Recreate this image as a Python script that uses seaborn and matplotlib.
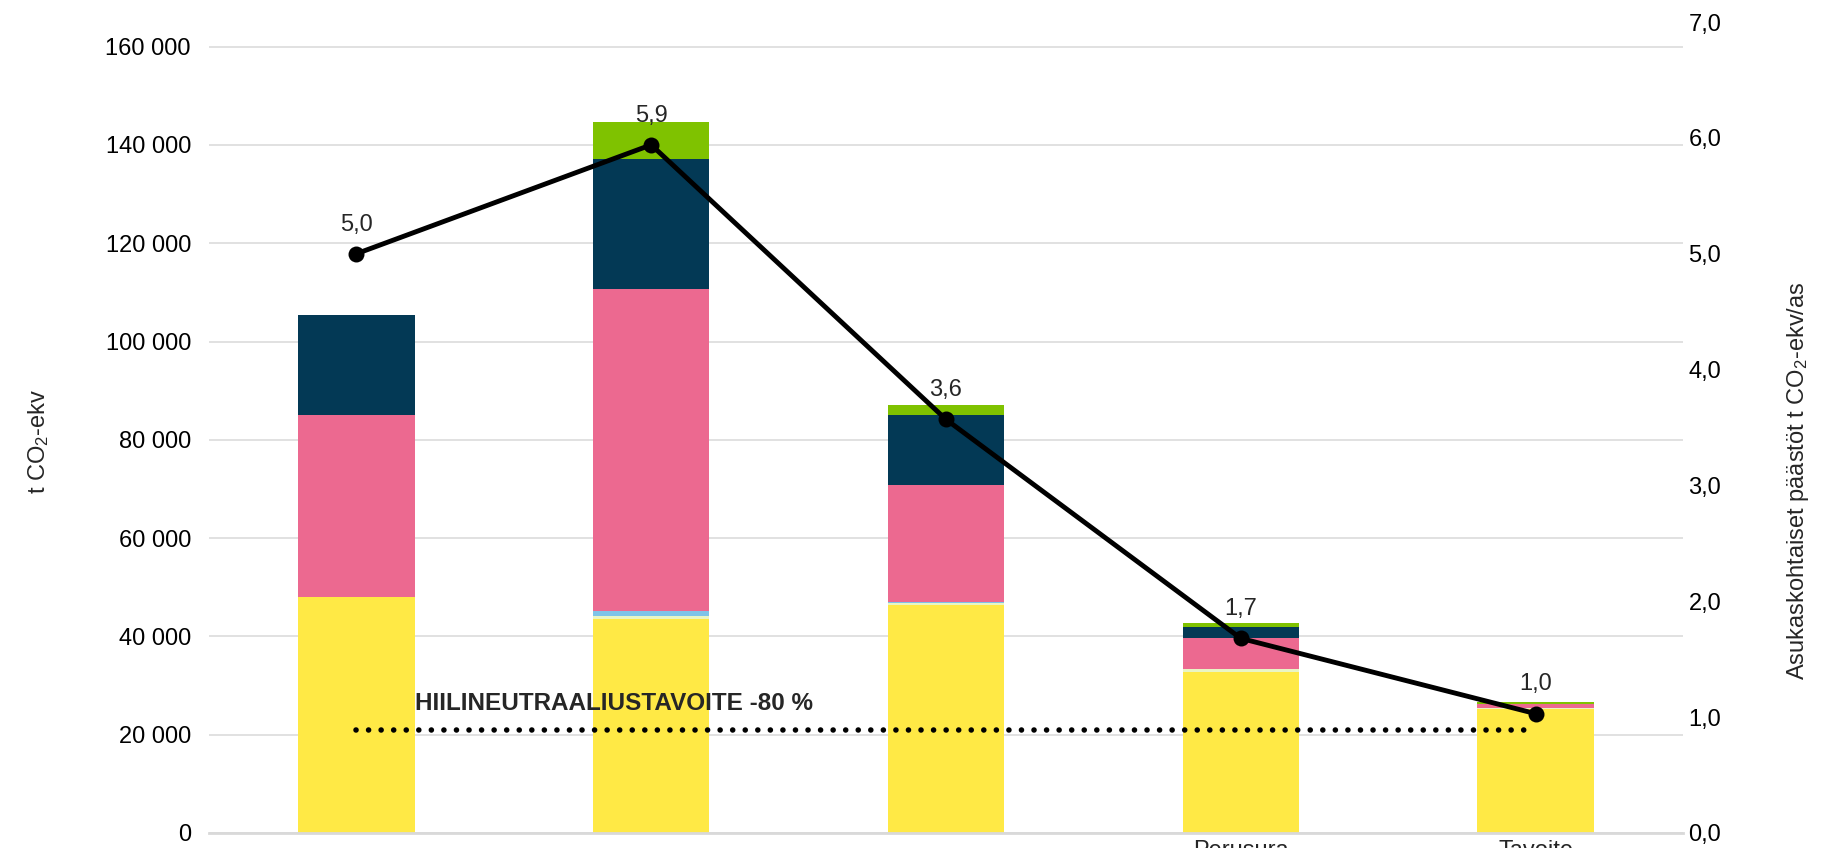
import numpy as np
import pandas as pd
import matplotlib.pyplot as plt
import matplotlib.ticker as mticker
import seaborn as sns

# data
categories = ["", "", "", "Perusura", "Tavoite"]
yellow = [48000, 43550, 46300, 32800, 25200]
light_green = [0, 700, 500, 500, 150]
light_blue = [0, 900, 300, 0, 0]
pink = [37000, 65500, 23800, 6450, 950]
navy = [20400, 26450, 14200, 2150, 0]
green = [0, 7600, 2000, 800, 300]
per_capita = [5.0, 5.94, 3.57, 1.68, 1.03]
per_capita_labels = ["5,0", "5,9", "3,6", "1,7", "1,0"]
target_value = 21000
target_label = "HIILINEUTRAALIUSTAVOITE -80 %"

series = [
    ("Tieliikenne", yellow, "#FFE945"),
    ("Työkoneet", light_green, "#E9F5C4"),
    ("Jätteet", light_blue, "#7EC3E8"),
    ("Lämmitys", pink, "#EC6990"),
    ("Sähkö", navy, "#033955"),
    ("Maatalous", green, "#7FC200"),
]

sns.set_theme(style="white")
plt.rcParams["font.family"] = ["Liberation Sans", "DejaVu Sans"]
plt.rcParams["mathtext.fontset"] = "custom"
plt.rcParams["mathtext.rm"] = "Liberation Sans"
plt.rcParams["mathtext.it"] = "Liberation Sans"

fs = 17

fig = plt.figure(figsize=(18.22, 8.48), dpi=100)
ax = fig.add_axes([0.1147, 0.0177, 0.809, 0.9563])

# stacked bars: draw cumulative totals, tallest first
cum = np.cumsum([s[1] for s in series], axis=0)
for i in range(len(series) - 1, -1, -1):
    df = pd.DataFrame({"cat": range(len(categories)), "val": cum[i]})
    sns.barplot(data=df, x="cat", y="val", color=series[i][2], saturation=1,
                width=0.395, linewidth=0, ax=ax, zorder=2)

ax.set_xlim(-0.5, len(categories) - 0.5)
ax.set_ylim(0, 165000)
ax.set_xticks(range(len(categories)))
ax.set_xticklabels(categories)
ax.set_yticks(np.arange(0, 160001, 20000))
ax.yaxis.set_major_formatter(mticker.FuncFormatter(lambda v, p: f"{int(v):,}".replace(",", " ")))
ax.grid(axis="y", color="#D9D9D9", linewidth=1.1)
ax.set_axisbelow(True)
for s in ["top", "right", "left"]:
    ax.spines[s].set_visible(False)
ax.spines["bottom"].set_color("#D9D9D9")
ax.spines["bottom"].set_linewidth(2)
ax.tick_params(axis="y", length=0, labelsize=fs, pad=13, colors="black")
ax.tick_params(axis="x", length=0, labelsize=fs, pad=5)
ax.set_xticks(np.arange(-0.5, len(categories)), minor=True)
ax.tick_params(axis="x", which="minor", length=30, color="#D9D9D9", width=1.5, direction="out")
ax.set_xlabel("")
ax.set_ylabel("t CO$_2$-ekv", fontsize=fs)
ax.yaxis.set_label_coords(-0.107, 0.483)

# target line
ax.plot([0, len(categories) - 1], [target_value, target_value], color="black",
        linewidth=4, linestyle=(0, (0.01, 2.25)), dash_capstyle="round", zorder=3)
ax.text(0.2, target_value + 5300, target_label, fontsize=17.5, fontweight="bold",
        ha="left", va="center", zorder=4)

# per-capita line on secondary axis
ax2 = ax.twinx()
sns.lineplot(x=np.arange(len(categories)), y=per_capita, ax=ax2, color="black",
             linewidth=3.5, marker="o", markersize=11.5, markeredgewidth=0, sort=False)
for xi, (v, lab) in enumerate(zip(per_capita, per_capita_labels)):
    ax2.annotate(lab, (xi, v), xytext=(0, 21), textcoords="offset points",
                 ha="center", va="center", fontsize=fs)
ax2.set_ylim(0, 7)
ax2.set_yticks(np.arange(0, 7.01, 1))
ax2.yaxis.set_major_formatter(mticker.FuncFormatter(lambda v, p: f"{v:.1f}".replace(".", ",")))
ax2.tick_params(axis="y", length=0, labelsize=fs, pad=4, colors="black")
for s in ["top", "right", "left", "bottom"]:
    ax2.spines[s].set_visible(False)
ax2.grid(False)
ax2.set_ylabel("Asukaskohtaiset päästöt t CO$_2$-ekv/as", fontsize=fs)
ax2.yaxis.set_label_coords(1.069, 0.434)

plt.savefig("out.png", dpi=100)
